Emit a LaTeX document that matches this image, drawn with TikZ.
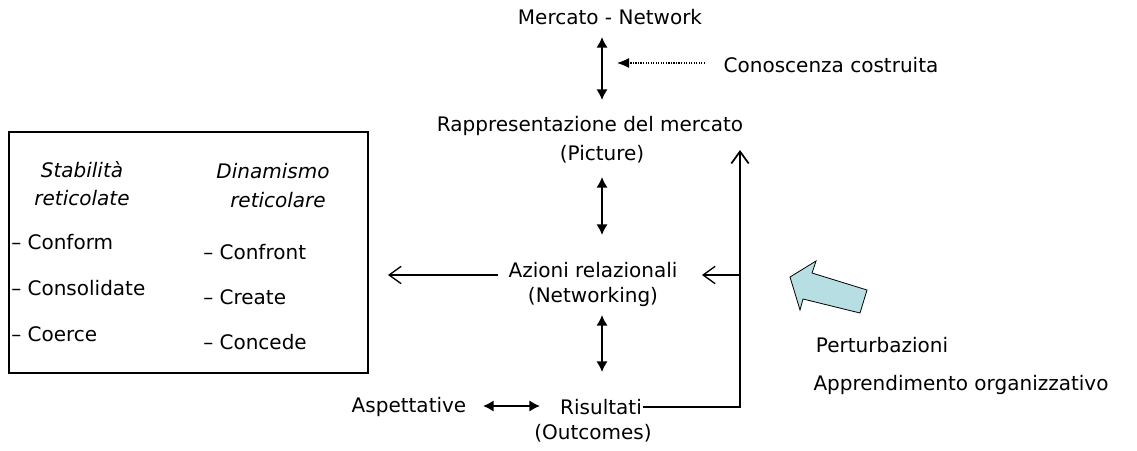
\documentclass[tikz,border=0pt]{standalone}
\usepackage{fontspec}
\setmainfont{DejaVu Sans}
\usetikzlibrary{arrows.meta}
\definecolor{blockblue}{HTML}{B7DFE3}
\tikzset{
  txt/.style={inner sep=0pt, font=\fontsize{15}{18}\selectfont},
  itxt/.style={txt, font=\fontsize{15}{18}\selectfont\itshape},
  dbl/.style={{Latex[length=8pt,width=8.5pt]}-{Latex[length=8pt,width=8.5pt]}, line width=1.3pt},
  open/.style={-{Straight Barb[length=9pt,width=13pt]}, line width=1pt},
  dots/.style={-{Latex[length=9pt,width=7.5pt]}, line width=0.9pt, densely dotted},
  frame/.style={draw, line width=1.3pt},
}
\begin{document}
\begin{tikzpicture}[x=0.75pt,y=-0.75pt]
\useasboundingbox (0,0) rectangle (1137,450);
% central column
\node[txt] (merc) at (610,17) {Mercato - Network};
\node[txt] (rapp) at (590,126) {Rappresentazione del mercato};
\node[txt] (pict) at (602,154) {(Picture)};
\node[txt] (azi) at (593,270) {Azioni relazionali};
\node[txt] (netw) at (593,297) {(Networking)};
\node[txt] (ris) at (601,407) {Risultati};
\node[txt] (outc) at (593,433) {(Outcomes)};
\node[txt] (asp) at (409,407) {Aspettative};
\node[txt] (cono) at (831,65) {Conoscenza costruita};
\node[txt] (pert) at (882,345) {Perturbazioni};
\node[txt] (appr) at (961,385) {Apprendimento organizzativo};
% coordinates for connectors
\coordinate (a1) at (602,37); \coordinate (a2) at (602,100);
\coordinate (b1) at (602,177); \coordinate (b2) at (602,235);
\coordinate (c1) at (602,315); \coordinate (c2) at (602,372);
\coordinate (d1) at (483,406); \coordinate (d2) at (540,406);
\coordinate (e1) at (705,63); \coordinate (e2) at (617,63);
\coordinate (f1) at (498,275); \coordinate (f2) at (388,275);
\coordinate (g1) at (740,275); \coordinate (g2) at (702,275);
\coordinate (h1) at (740,150);
\draw[dbl] (a1) -- (a2);
\draw[dbl] (b1) -- (b2);
\draw[dbl] (c1) -- (c2);
\draw[dbl] (d1) -- (d2);
\draw[dots] (e1) -- (e2);
\draw[open] (f1) -- (f2);
\draw[open] (g1) -- (g2);
\draw[open, line width=1.3pt] ([xshift=1pt]ris.east) -| (h1);
% block arrow
\draw[fill=blockblue, line width=0.6pt, line join=miter]
  (790,277) -- (816,261) -- (812,273) -- (867,290) -- (860,313) -- (803,299) -- (800,310) -- cycle;
% left box
\draw[frame] (9,132) rectangle (368,373);
\node[itxt] (s1) at (82,170) {Stabilità};
\node[itxt] (s2) at (82,198) {reticolate};
\node[itxt] (d1t) at (273,171) {Dinamismo};
\node[itxt] (d2t) at (278,200) {reticolare};
\node[txt, anchor=west] (l1) at (11,242) {– Conform};
\node[txt, anchor=west] (l2) at (11,288) {– Consolidate};
\node[txt, anchor=west] (l3) at (11,334) {– Coerce};
\node[txt, anchor=west] (r1) at (203,252) {– Confront};
\node[txt, anchor=west] (r2) at (203,297) {– Create};
\node[txt, anchor=west] (r3) at (203,342) {– Concede};
\end{tikzpicture}
\end{document}
